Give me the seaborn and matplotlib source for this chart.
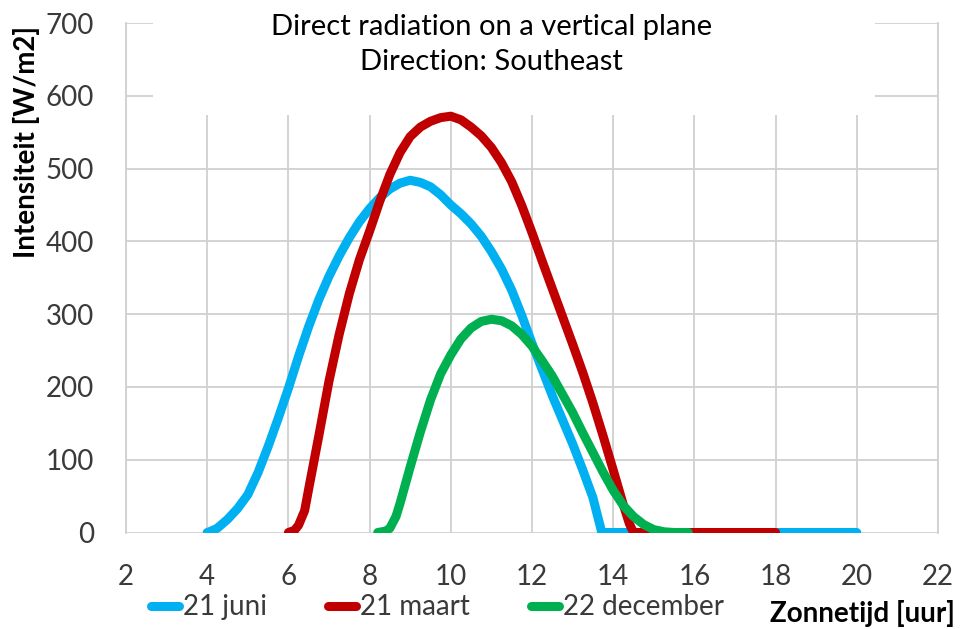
import matplotlib
matplotlib.use("Agg")
import matplotlib.pyplot as plt
from matplotlib.patches import Rectangle
import pandas as pd
import seaborn as sns

# Solar time [h] and direct irradiance [W/m2] on a south-east facing wall
juni_t = [4.0, 4.1, 4.25, 4.5, 4.75, 5.0, 5.25, 5.5, 5.75, 6.0, 6.25, 6.5, 6.75,
          7.0, 7.25, 7.5, 7.75, 8.0, 8.25, 8.5, 8.75, 9.0, 9.25, 9.5, 9.75,
          10.0, 10.25, 10.5, 10.75, 11.0, 11.25, 11.5, 11.75, 12.0, 12.25,
          12.5, 12.75, 13.0, 13.25, 13.5, 13.72, 14.0, 16.0, 18.0, 20.0]
juni_w = [0, 2, 6, 18, 33, 52, 82, 118, 157, 198, 242, 283, 320,
          352, 380, 405, 427, 445, 460, 472, 480, 484, 481, 475, 464,
          450, 438, 424, 407, 386, 362, 333, 298, 260, 224,
          188, 155, 122, 86, 48, 0, 0, 0, 0, 0]

maart_t = [6.0, 6.15, 6.25, 6.4, 6.5, 6.75, 7.0, 7.25, 7.5, 7.75, 8.0, 8.25,
           8.5, 8.75, 9.0, 9.25, 9.5, 9.75, 10.0, 10.25, 10.5, 10.75, 11.0,
           11.25, 11.5, 11.75, 12.0, 12.25, 12.5, 12.75, 13.0, 13.25, 13.5,
           13.75, 14.0, 14.25, 14.4, 14.5, 16.0, 18.0]
maart_w = [0, 3, 10, 30, 60, 133, 208, 272, 328, 375, 414, 455,
           492, 522, 544, 557, 565, 570, 572, 567, 557, 545, 529,
           508, 482, 449, 412, 373, 335, 297, 259, 220, 178,
           133, 86, 38, 12, 0, 0, 0]

dec_t = [8.2, 8.4, 8.5, 8.65, 8.75, 9.0, 9.25, 9.5, 9.75, 10.0, 10.25, 10.5,
         10.75, 11.0, 11.25, 11.5, 11.75, 12.0, 12.25, 12.5, 12.75, 13.0,
         13.25, 13.5, 13.75, 14.0, 14.25, 14.5, 14.75, 15.0, 15.25, 15.5, 15.85]
dec_w = [0, 2, 6, 22, 40, 90, 138, 182, 218, 244, 266, 281,
         290, 293, 291, 284, 272, 256, 236, 215, 190, 165,
         137, 110, 83, 58, 37, 22, 11, 4, 1, 0, 0]

series_names = ["21 juni", "21 maart", "22 december"]
series_colors = ["#00B0F0", "#C00000", "#00B050"]

title_lines = ["Direct radiation on a vertical plane", "Direction: Southeast"]
x_ticks = [2, 4, 6, 8, 10, 12, 14, 16, 18, 20, 22]
y_ticks = [0, 100, 200, 300, 400, 500, 600, 700]

frames = []
for name, t, w in zip(series_names, [juni_t, maart_t, dec_t], [juni_w, maart_w, dec_w]):
    frames.append(pd.DataFrame({"tijd": t, "intensiteit": w, "datum": name}))
df = pd.concat(frames, ignore_index=True)

sns.set_theme(style="white")
plt.rcParams["font.family"] = ["Lato", "DejaVu Sans"]

fig = plt.figure(figsize=(9.64, 6.29), dpi=100)
ax = fig.add_axes([0.1307, 0.1534, 0.973 - 0.1307, 0.9634 - 0.1534])

grid_color = "#d0d0d0"
sns.lineplot(data=df, x="tijd", y="intensiteit", hue="datum",
             palette=dict(zip(series_names, series_colors)),
             linewidth=6.5, sort=False, estimator=None, ax=ax, zorder=3)
for line in ax.get_lines():
    line.set_solid_capstyle("round")
    line.set_solid_joinstyle("round")

ax.set_xlim(2, 22)
ax.set_ylim(0, 700)
ax.set_xticks(x_ticks)
ax.set_yticks(y_ticks)
ax.grid(True, color=grid_color, linewidth=1.3, zorder=0)
ax.set_axisbelow(True)
for side in ["top", "bottom"]:
    ax.spines[side].set_visible(False)
for side in ["left", "right"]:
    ax.spines[side].set_color(grid_color)
    ax.spines[side].set_linewidth(1.3)
ax.tick_params(axis="both", which="both", length=9, width=1.3, color=grid_color,
               labelsize=20, labelcolor="#3a3a3a")
ax.tick_params(axis="y", pad=14)
ax.tick_params(axis="x", pad=14)

# white panel behind the title
ax.add_patch(Rectangle((0.033, 0.819), 0.889, 0.195, transform=ax.transAxes,
                       facecolor="white", edgecolor="none", zorder=1, clip_on=False))
ax.add_patch(Rectangle((0.0825, 0.98), 0.736, 0.05, transform=ax.transAxes,
                       facecolor="white", edgecolor="none", zorder=1, clip_on=False))

fig.text(0.51, 0.978, "\n".join(title_lines), ha="center", va="top",
         fontsize=21, color="black", linespacing=1.45)

ax.set_ylabel("Intensiteit [W/m2]", fontsize=20, fontweight="bold", color="black")
ax.yaxis.set_label_coords(-0.106, 0.766)
ax.set_xlabel("Zonnetijd [uur]", fontsize=20, fontweight="bold", color="black")
ax.xaxis.set_label_coords(1.021, -0.132)
ax.xaxis.label.set_ha("right")

handles, labels = ax.get_legend_handles_labels()
ax.legend(handles, labels, loc="center left", bbox_to_anchor=(0.017, -0.147),
          ncol=3, frameon=False, fontsize=20, handlelength=1.0, handletextpad=0.15,
          columnspacing=2.2, borderaxespad=0, labelcolor="#3a3a3a")
for h in ax.get_legend().get_lines():
    h.set_linewidth(6.5)
    h.set_solid_capstyle("round")

fig.savefig("out.png", dpi=100)
